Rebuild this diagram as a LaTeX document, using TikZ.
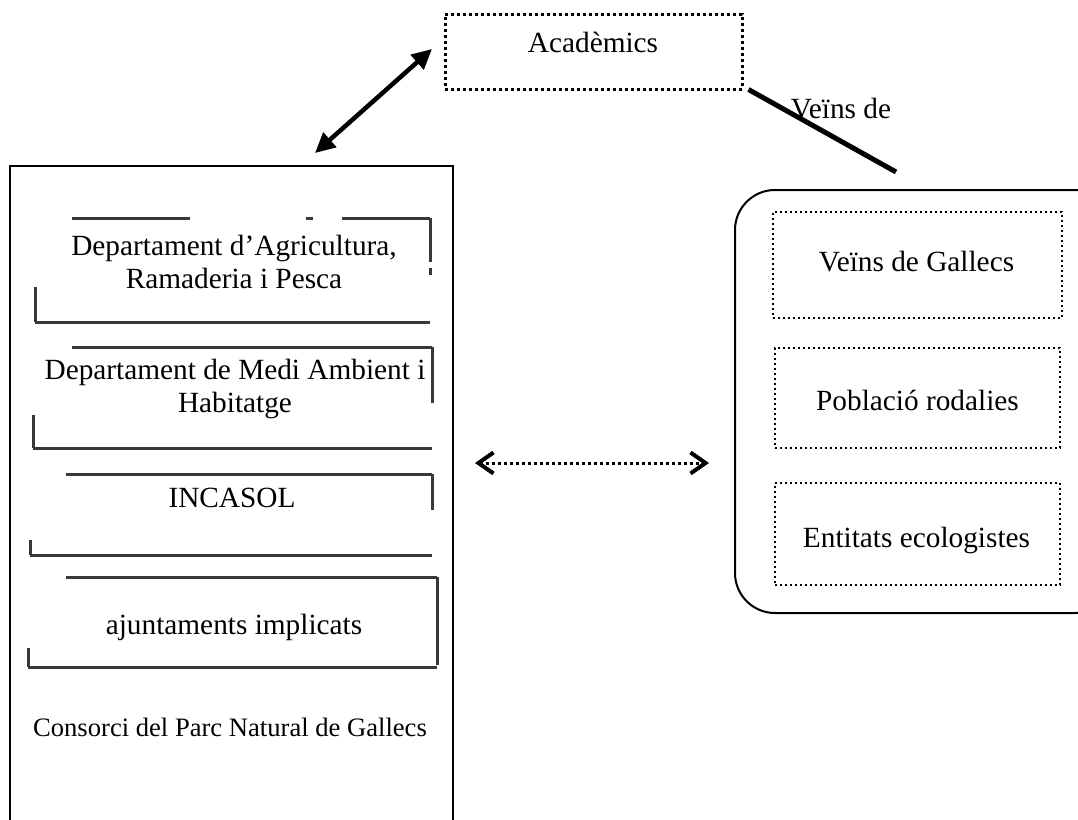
\documentclass[tikz,border=0pt]{standalone}
\usepackage{fontspec}
\setmainfont{Liberation Serif}
\usetikzlibrary{arrows.meta}
\begin{document}
\begin{tikzpicture}[x=1pt,y=-1pt,
  txt/.style={font=\fontsize{29.3}{33}\selectfont, align=center, inner sep=0pt},
  dotbig/.style={draw, line width=3pt, dash pattern=on 3pt off 3pt},
  dotsmall/.style={draw, line width=2pt, dash pattern=on 2pt off 3pt},
  scan/.style={draw=black!78, line width=3pt},
  boxplain/.style={draw, line width=2pt, inner sep=0pt},
  bigtip/.style={{Triangle[length=20pt,width=19pt]}-{Triangle[length=20pt,width=19pt]}},
  opentip/.style={{Straight Barb[length=15pt,width=21pt,line width=4pt]}-{Straight Barb[length=15pt,width=21pt,line width=4pt]}},
]
\useasboundingbox (0,0) rectangle (1078,819);
\clip (0,0) rectangle (1078,819);
\fill[white] (0,0) rectangle (1078,819);

% Academics
\node[dotbig, minimum width=297pt, minimum height=75pt, inner sep=0pt] (acad) at (593.5,51.5) {};
\node[txt] (acadt) at (593,42) {Acadèmics};

% left big box
\node[boxplain, minimum width=443pt, minimum height=710pt] (lb) at (231.5,521) {};

% scanned boxes (left)
\path[scan] (72,218) -- (190,218) (306,218) -- (313,218) (342,218) -- (430,218)
  (430,218) -- (430,262) (430,268) -- (430,275)
  (35,287) -- (35,322) (35,322) -- (430,322);
\node[txt] (d1) at (234,262) {Departament d’Agricultura,\\Ramaderia i Pesca};

\path[scan] (72,347) -- (432,347) (432,347) -- (432,403)
  (33,415) -- (33,448) (33,448) -- (432,448);
\node[txt] (d2) at (235,389) {Departament de Medi Ambient i\\Habitatge};

\path[scan] (66,474) -- (432,474) (432,474) -- (432,510)
  (30,540) -- (30,555) (30,555) -- (432,555);
\node[txt] (d3) at (232,498) {INCASOL};

\path[scan] (66,577) -- (437,577) (437,577) -- (437,665)
  (28,648) -- (28,667) (28,667) -- (437,667);
\node[txt] (d4) at (234,627) {ajuntaments implicats};

\node[txt, font=\fontsize{26.6}{30}\selectfont] (cons) at (230,727) {Consorci del Parc Natural de Gallecs};

% right rounded box
\node[boxplain, rounded corners=40pt, minimum width=380pt, minimum height=423pt] (rb) at (925,401.5) {};
\node[dotsmall, minimum width=289pt, minimum height=106pt, inner sep=0pt] (vg) at (917.5,265) {};
\node[txt] (vgt) at (916.5,262) {Veïns de Gallecs};
\node[dotsmall, minimum width=285pt, minimum height=100pt, inner sep=0pt] (pr) at (917.5,398) {};
\node[txt] (prt) at (917.5,400) {Població rodalies};
\node[dotsmall, minimum width=285pt, minimum height=102pt, inner sep=0pt] (ee) at (917.5,534) {};
\node[txt] (eet) at (916.5,540) {Entitats ecologistes};

% connectors
\coordinate (a1) at (315,153);
\coordinate (a2) at (432,49);
\draw[line width=4.5pt, bigtip] (a1) -- (a2);

\coordinate (l1) at ([shift={(5,-1)}]acad.south east);
\coordinate (l2) at (896,172);
\draw[line width=5pt] (l1) -- (l2);
\node[txt] (vdl) at (841,109) {Veïns de};

\coordinate (m1) at (475,463);
\coordinate (m2) at (709,463);
\draw[line width=3pt, dash pattern=on 3pt off 3pt, opentip] (m1) -- (m2);
\end{tikzpicture}
\end{document}
